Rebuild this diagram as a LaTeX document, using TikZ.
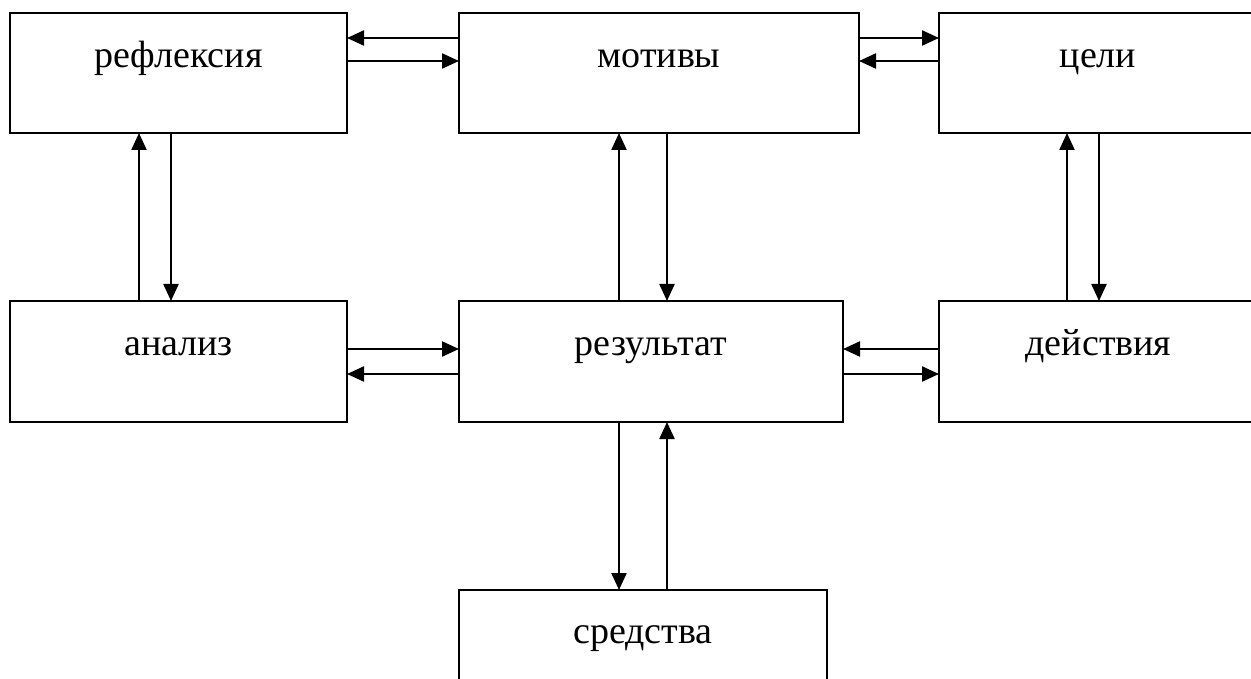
\documentclass[tikz,border=0pt]{standalone}
\usepackage{fontspec}
\setmainfont{Liberation Serif}
\usetikzlibrary{arrows.meta}
\begin{document}
\begin{tikzpicture}[x=1pt,y=-1pt,
  box/.style={draw,line width=2.2pt,anchor=north west,inner sep=0pt,outer sep=0pt,minimum height=120pt},
  lbl/.style={anchor=base,inner sep=0pt,font=\fontsize{38}{40}\selectfont},
  arr/.style={line width=2.2pt,-{Triangle[length=17pt,width=15pt]}}]
\useasboundingbox (0,0) rectangle (1251,679);
\clip (0,0) rectangle (1251,679);
\node[box,minimum width=337pt] (refl) at (10,13) {};
\node[box,minimum width=400pt] (motiv) at (459,13) {};
\node[box,minimum width=318pt] (celi) at (939,13) {};
\node[box,minimum width=337pt,minimum height=121pt] (anal) at (10,301) {};
\node[box,minimum width=384pt,minimum height=121pt] (rez) at (459,301) {};
\node[box,minimum width=319pt,minimum height=121pt] (deist) at (939,301) {};
\node[box,minimum width=368pt] (sred) at (459,590) {};
\node[lbl] (trefl) at ([yshift=-55pt]refl.north) {рефлексия};
\node[lbl] (tmotiv) at ([yshift=-55pt]motiv.north) {мотивы};
\node[lbl] (tceli) at ([yshift=-55pt]celi.north) {цели};
\node[lbl] (tanal) at ([yshift=-54pt]anal.north) {анализ};
\node[lbl] (trez) at ([yshift=-54pt]rez.north) {результат};
\node[lbl] (tdeist) at ([yshift=-54pt]deist.north) {действия};
\node[lbl] (tsred) at ([yshift=-53pt]sred.north) {средства};
% row 1 horizontal
\draw[arr] ([yshift=-25pt]motiv.north west) -- ([yshift=-25pt]refl.north east);
\draw[arr] ([yshift=-48pt]refl.north east) -- ([yshift=-48pt]motiv.north west);
\draw[arr] ([yshift=-25pt]motiv.north east) -- ([yshift=-25pt]celi.north west);
\draw[arr] ([yshift=-48pt]celi.north west) -- ([yshift=-48pt]motiv.north east);
% row 2 horizontal
\draw[arr] ([yshift=-48pt]anal.north east) -- ([yshift=-48pt]rez.north west);
\draw[arr] ([yshift=-73pt]rez.north west) -- ([yshift=-73pt]anal.north east);
\draw[arr] ([yshift=-48pt]deist.north west) -- ([yshift=-48pt]rez.north east);
\draw[arr] ([yshift=-73pt]rez.north east) -- ([yshift=-73pt]deist.north west);
% verticals
\draw[arr] ([xshift=129pt]anal.north west) -- ([xshift=129pt]refl.south west);
\draw[arr] ([xshift=161pt]refl.south west) -- ([xshift=161pt]anal.north west);
\draw[arr] ([xshift=160pt]rez.north west) -- ([xshift=160pt]motiv.south west);
\draw[arr] ([xshift=208pt]motiv.south west) -- ([xshift=208pt]rez.north west);
\draw[arr] ([xshift=128pt]deist.north west) -- ([xshift=128pt]celi.south west);
\draw[arr] ([xshift=160pt]celi.south west) -- ([xshift=160pt]deist.north west);
\draw[arr] ([xshift=160pt]rez.south west) -- ([xshift=160pt]sred.north west);
\draw[arr] ([xshift=208pt]sred.north west) -- ([xshift=208pt]rez.south west);
\end{tikzpicture}
\end{document}
